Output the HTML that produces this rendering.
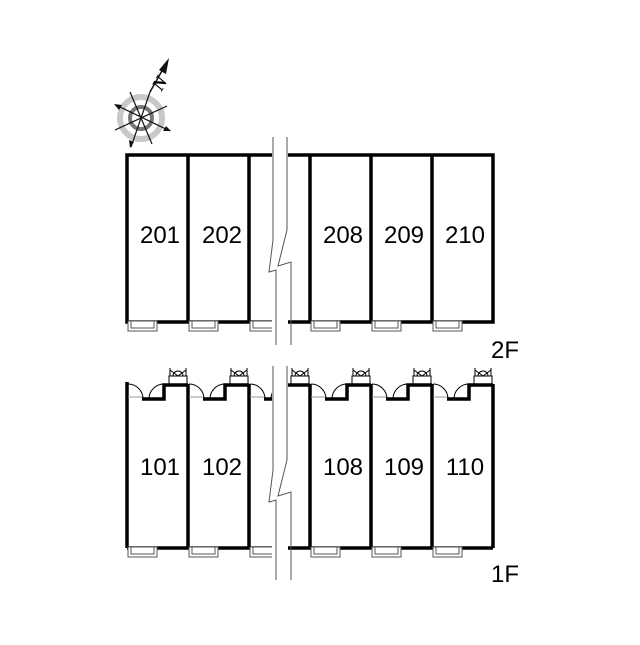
<!DOCTYPE html><html><head><style>body{margin:0;background:#fff}</style></head><body>
<svg width="640" height="640" viewBox="0 0 640 640" xmlns="http://www.w3.org/2000/svg" font-family="Liberation Sans Narrow, Liberation Sans, sans-serif">
<rect width="640" height="640" fill="#fff"/>
<g>
<circle cx="141" cy="118" r="21" fill="none" stroke="#c8c8c8" stroke-width="6"/>
<circle cx="141" cy="118" r="11" fill="none" stroke="#777" stroke-width="4"/>
<g stroke="#111" stroke-width="1.2">
<line x1="116" y1="105" x2="170" y2="131"/>
<line x1="130" y1="92" x2="152" y2="144"/>
<line x1="115" y1="130" x2="167" y2="106"/>
<line x1="131" y1="147" x2="150" y2="92"/>
</g>
<polygon points="114,104 122,105 119,110" fill="#111"/>
<polygon points="171,131 163,131 166,126" fill="#111"/>
<polygon points="130,148 129,140 134,142" fill="#111"/>
<line x1="150" y1="92" x2="167" y2="62" stroke="#111" stroke-width="1.5"/>
<polygon points="169,58 159,70 166,74" fill="#111"/>
<text x="153" y="91" font-size="18" font-weight="bold" font-style="italic" font-family="Liberation Serif, serif" transform="rotate(-60 158 84)">N</text>
</g>
<g fill="none" stroke="#000" stroke-width="3.5">
<rect x="127" y="155" width="366" height="167"/>
<line x1="188" y1="155" x2="188" y2="322"/>
<line x1="249" y1="155" x2="249" y2="322"/>
<line x1="310" y1="155" x2="310" y2="322"/>
<line x1="371" y1="155" x2="371" y2="322"/>
<line x1="432" y1="155" x2="432" y2="322"/>
</g>
<g fill="none" stroke="#000" stroke-width="3.5">
<line x1="127" y1="548" x2="493" y2="548"/>
<line x1="127" y1="382" x2="127" y2="548"/>
<line x1="493" y1="384" x2="493" y2="548"/>
<line x1="188" y1="384" x2="188" y2="548"/>
<line x1="249" y1="384" x2="249" y2="548"/>
<line x1="310" y1="384" x2="310" y2="548"/>
<line x1="371" y1="384" x2="371" y2="548"/>
<line x1="432" y1="384" x2="432" y2="548"/>
</g>
<g fill="none" stroke="#000">
<g id="d1">
<polyline points="142,399 164,399 164,385 188,385" stroke-width="3.5"/>
<path d="M128,384 A15,15 0 0 1 143,399" stroke-width="1"/>
<path d="M149,399 A15,15 0 0 1 164,384" stroke-width="1"/>
<line x1="128" y1="397" x2="142" y2="397" stroke="#999" stroke-width="1"/>
<rect x="169" y="376" width="18" height="8" stroke-width="1"/>
<path d="M170,368 L170,376 M186,368 L186,376 M170,370 L178,376 L186,370" stroke-width="1"/>
<path d="M173,376 A5,5 0 0 1 178,371 A5,5 0 0 1 183,376" stroke-width="1"/>
</g>
<use href="#d1" x="61"/>
<use href="#d1" x="122"/>
<use href="#d1" x="183"/>
<use href="#d1" x="244"/>
<use href="#d1" x="305"/>
</g>
<g fill="#fff" stroke="#555" stroke-width="1">
<g id="b"><rect x="128" y="321" width="29" height="10"/><rect x="131" y="321" width="23" height="7"/></g>
<use href="#b" x="61"/><use href="#b" x="122"/><use href="#b" x="183"/><use href="#b" x="244"/><use href="#b" x="305"/>
<use href="#b" y="226"/><use href="#b" x="61" y="226"/><use href="#b" x="122" y="226"/><use href="#b" x="183" y="226"/><use href="#b" x="244" y="226"/><use href="#b" x="305" y="226"/>
</g>
<g>
<rect x="272" y="136" width="16" height="210" fill="#fff"/>
<rect x="272" y="365" width="16" height="225" fill="#fff"/>
</g>
<g fill="none" stroke="#555" stroke-width="1">
<polyline points="273,137 273,240 269,272 276,270 276,345"/>
<polyline points="287,137 287,230 278,266 291,262 291,345" />
<polyline points="273,366 273,470 269,502 276,500 276,580"/>
<polyline points="287,366 287,460 278,496 291,492 291,580"/>
</g>
<g font-size="24" fill="#000" text-anchor="middle">
<text x="160" y="243">201</text><text x="222" y="243">202</text>
<text x="343" y="243">208</text><text x="404" y="243">209</text><text x="465" y="243">210</text>
<text x="160" y="475">101</text><text x="222" y="475">102</text>
<text x="343" y="475">108</text><text x="404" y="475">109</text><text x="465" y="475">110</text>
<text x="505" y="358">2F</text><text x="505" y="582">1F</text>
</g>
</svg>
</body></html>
